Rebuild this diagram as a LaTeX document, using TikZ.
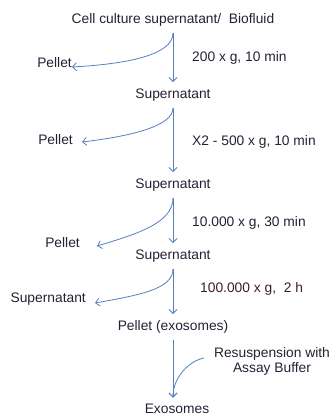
\documentclass[tikz,border=0pt]{standalone}
\usepackage{fontspec}
\setmainfont{Liberation Sans}
\usetikzlibrary{arrows.meta}
\definecolor{txt}{RGB}{38,32,52}
\definecolor{lbl}{RGB}{62,28,46}
\definecolor{ln}{RGB}{84,128,192}
\begin{document}
\begin{tikzpicture}[x=1pt,y=-1pt,
  every node/.style={font=\fontsize{13.8}{15}\selectfont, text=txt, inner sep=0pt},
  stage/.style={outer ysep=6.5pt, text height=10pt, text depth=3pt},
  side/.style={anchor=east},
  cond/.style={anchor=west},
  flow/.style={draw=ln, line width=0.8pt, -{Straight Barb[length=4pt,width=8pt]}}]
\useasboundingbox (0,0) rectangle (332,416);

\node[stage] (n0) at (173,20) {Cell culture supernatant/\ \ Biofluid};
\node[stage] (n1) at (173,95) {Supernatant};
\node[stage] (n2) at (173,185) {Supernatant};
\node[stage] (n3) at (173,256) {Supernatant};
\node[stage] (n4) at (173,327) {Pellet (exosomes)};
\node[stage, outer ysep=5.5pt] (n5) at (177,409.5) {Exosomes};

\node[side] (p1) at (72,63) {Pellet};
\node[side] (p2) at (73,140) {Pellet};
\node[side] (p3) at (80,243) {Pellet};
\node[side] (s4) at (86,299) {Supernatant};

\node[cond] (c1) at (192,58) {200 x g, 10 min};
\node[cond] (c2) at (192,142) {X2 - 500 x g, 10 min};
\node[cond] (c3) at (192,223) {10.000 x g, 30 min};
\node[cond, text=lbl] (c4) at (200,289) {100.000 x g,\ \ 2 h};

\node[align=center, inner xsep=10pt] (res) at (272,361) {Resuspension with\\Assay Buffer};

\draw[flow] (n0.south) -- (n1.north);
\draw[flow] (n0.south) .. controls +(0,22) and +(55,-3) .. ([yshift=-4pt]p1.east);
\draw[flow] (n1.south) -- (n2.north);
\draw[flow] (n1.south) .. controls +(0,18) and +(50,-6) .. ([shift={(9pt,-2pt)}]p2.east);
\draw[flow] (n2.south) -- (n3.north);
\draw[flow] (n2.south) .. controls +(0,25) and +(40,-12) .. ([shift={(17pt,-3pt)}]p3.east);
\draw[flow] (n3.south) -- (n4.north);
\draw[flow] (n3.south) .. controls +(0,20) and +(45,-8) .. ([shift={(9pt,-4pt)}]s4.east);
\draw[flow] (n4.south) -- (n5.north -| n4.south);
\draw[flow] ([yshift=3pt]res.west) .. controls +(-15,3) and +(0,-20) .. (n5.north -| n4.south);
\end{tikzpicture}
\end{document}
